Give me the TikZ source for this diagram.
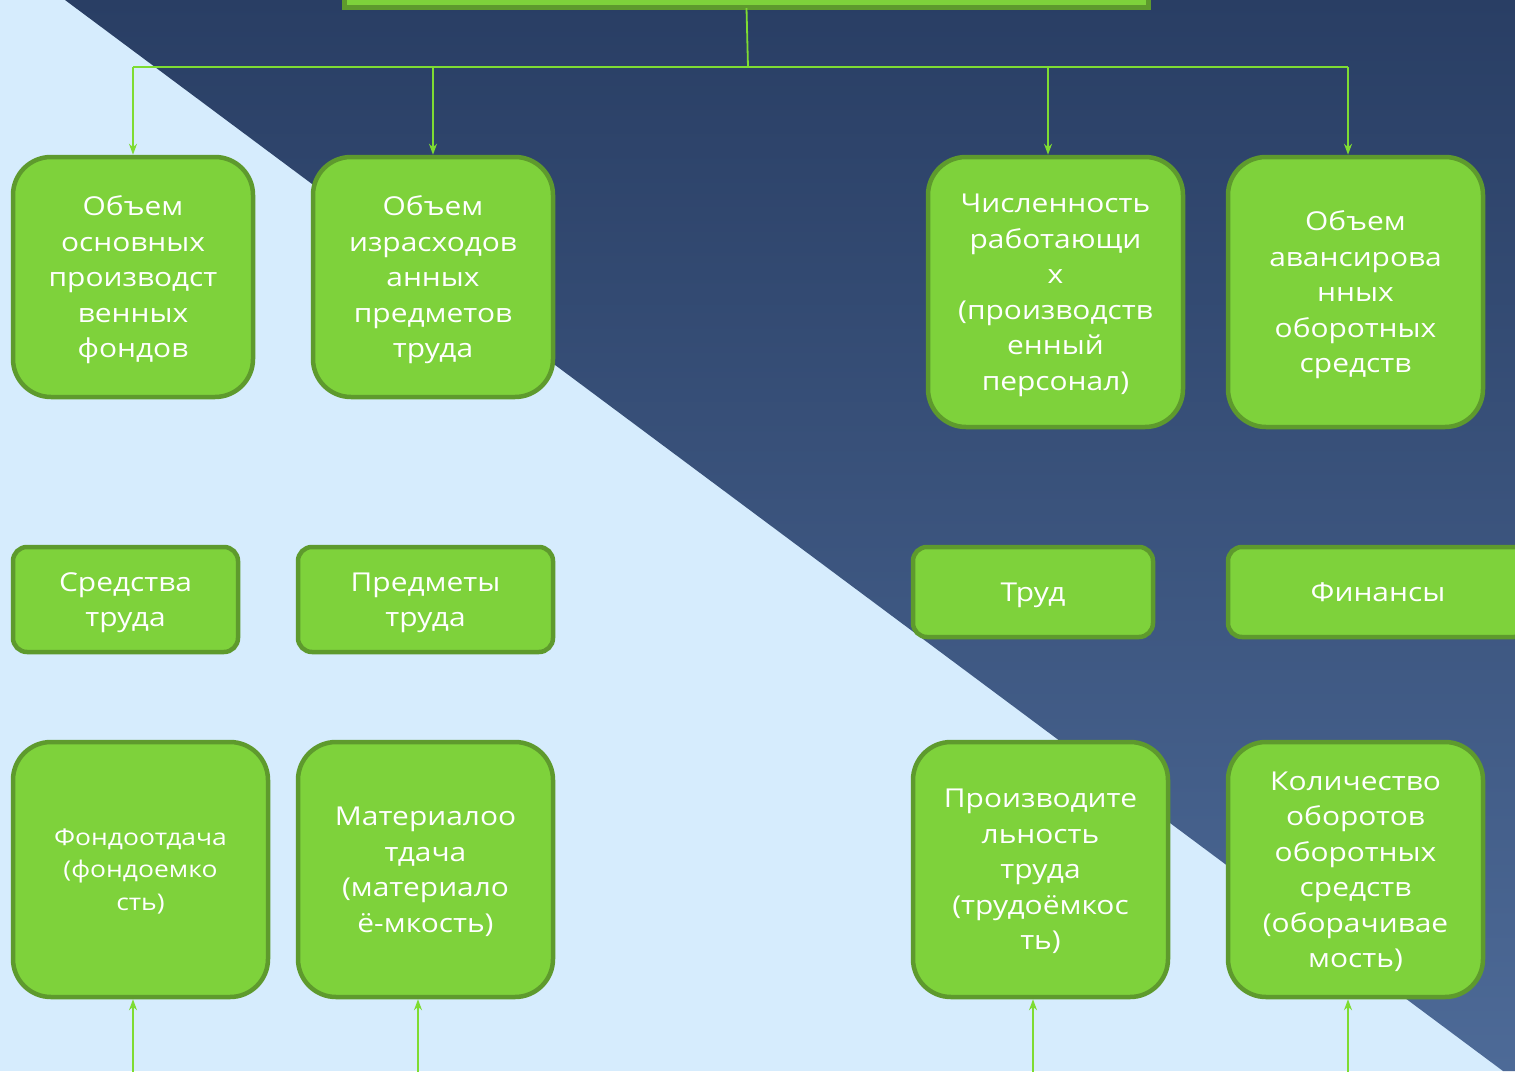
\documentclass[tikz,border=0pt]{standalone}
\usepackage{fontspec}
\setmainfont{Open Sans}[FakeStretch=1.15]
\usetikzlibrary{arrows.meta}
\definecolor{bglight}{HTML}{D6ECFD}
\definecolor{bgtop}{HTML}{293E64}
\definecolor{bgbot}{HTML}{4D6A97}
\definecolor{boxfill}{HTML}{7ED23B}
\definecolor{boxline}{HTML}{5E9A2D}
\definecolor{conncol}{HTML}{7EDC32}
\tikzset{
  gbox/.style={draw=boxline, fill=boxfill, line width=4.5pt, rounded corners=38pt,
    text=white, align=center, inner sep=0pt, text depth=0pt, font=\fontsize{26}{35.5}\selectfont},
  sbox/.style={gbox, rounded corners=14pt},
  conn/.style={draw=conncol, line width=1.8pt},
  arr/.style={conn, -{Stealth[length=11pt,width=8pt]}},
}
\begin{document}
\begin{tikzpicture}[x=1pt,y=-1pt]
\useasboundingbox (0,0) rectangle (1515,1071);
\fill[bglight] (0,0) rectangle (1515,1071);
\shade[top color=bgtop, bottom color=bgbot] (65,0) -- (1515,0) -- (1515,1071) -- (1503,1071) -- cycle;

% top box
\node[draw=boxline, fill=boxfill, line width=5pt, minimum width=804pt, minimum height=40pt, inner sep=0pt] (top) at (746,-13) {};

% row 1
\node[gbox, minimum width=240pt, minimum height=240pt] (b1) at (133,277) {Объем\\основных\\производст\\венных\\фондов};
\node[gbox, minimum width=240pt, minimum height=240pt] (b2) at (433,277) {Объем\\израсходов\\анных\\предметов\\труда};
\node[gbox, minimum width=255pt, minimum height=270pt] (b3) at (1055.5,292) {Численность\\работающи\\х\\(производств\\енный\\персонал)};
\node[gbox, minimum width=255pt, minimum height=270pt] (b4) at (1355.5,292) {Объем\\авансирова\\нных\\оборотных\\средств};

% row 2
\node[sbox, minimum width=225pt, minimum height=105pt] (s1) at (125.5,599.5) {Средства\\труда};
\node[sbox, minimum width=255pt, minimum height=105pt] (s2) at (425.5,599.5) {Предметы\\труда};
\node[sbox, minimum width=240pt, minimum height=90pt] (s3) at (1033,592) {Труд};
\node[sbox, minimum width=300pt, minimum height=90pt] (s4) at (1378,592) {};
\node[text=white, text depth=0pt, inner sep=0pt, font=\fontsize{26}{35.5}\selectfont] (s4t) at (1378,592) {Финансы};

% row 3
\node[gbox, minimum width=255pt, minimum height=255pt, font=\fontsize{23}{32.5}\selectfont] (c1) at (140.5,869.5) {Фондоотдача\\(фондоемко\\сть)};
\node[gbox, minimum width=255pt, minimum height=255pt] (c2) at (425.5,869.5) {Материалоо\\тдача\\(материало\\ё-мкость)};
\node[gbox, minimum width=255pt, minimum height=255pt] (c3) at (1040.5,869.5) {Производите\\льность\\труда\\(трудоёмкос\\ть)};
\node[gbox, minimum width=255pt, minimum height=255pt] (c4) at (1355.5,869.5) {Количество\\оборотов\\оборотных\\средств\\(оборачивае\\мость)};

% connectors top
\coordinate (j) at (748,67);
\coordinate (h1) at (133,67);
\coordinate (h2) at (433,67);
\coordinate (h3) at (1048,67);
\coordinate (h4) at (1348,67);
\draw[conn] (746.5,8) -- (j);
\draw[conn] (h1) -- (h4);
\draw[arr] (h1) -- (h1 |- b1.north);
\draw[arr] (h2) -- (h2 |- b2.north);
\draw[arr] (h3) -- (h3 |- b3.north);
\draw[arr] (h4) -- (h4 |- b4.north);

% connectors bottom
\coordinate (u1) at (133,1075);
\coordinate (u2) at (418,1075);
\coordinate (u3) at (1033,1075);
\coordinate (u4) at (1348,1075);
\draw[arr] (u1) -- (u1 |- c1.south);
\draw[arr] (u2) -- (u2 |- c2.south);
\draw[arr] (u3) -- (u3 |- c3.south);
\draw[arr] (u4) -- (u4 |- c4.south);
\end{tikzpicture}
\end{document}
